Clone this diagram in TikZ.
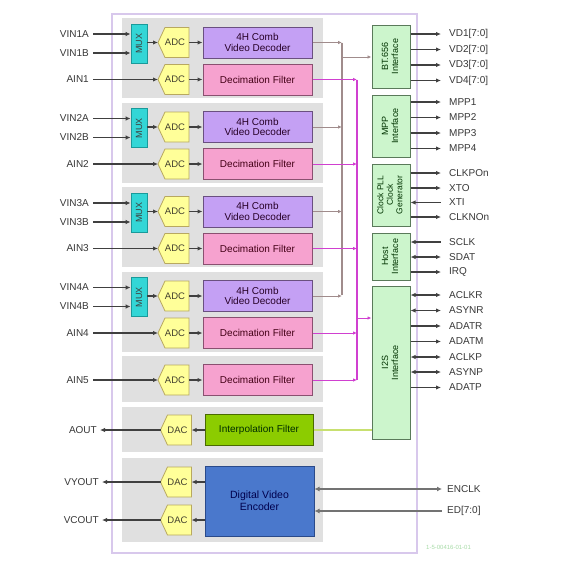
\documentclass[tikz,border=0pt]{standalone}
\usepackage{fontspec}
\usepackage{graphicx}
\setmainfont{Liberation Sans}
\usetikzlibrary{arrows.meta,calc}
\definecolor{panelgray}{HTML}{E0E0E0}
\definecolor{muxfill}{HTML}{33D6D6}
\definecolor{muxline}{HTML}{1A9A9A}
\definecolor{adcfill}{HTML}{FFFF99}
\definecolor{adcline}{HTML}{B8A860}
\definecolor{decfill}{HTML}{C4A0F4}
\definecolor{decline}{HTML}{6A5080}
\definecolor{decimfill}{HTML}{F6A2CF}
\definecolor{decimline}{HTML}{8A5070}
\definecolor{interpfill}{HTML}{8CCC00}
\definecolor{interpline}{HTML}{4A6A00}
\definecolor{encfill}{HTML}{4A78CC}
\definecolor{encline}{HTML}{2A4A8A}
\definecolor{iffill}{HTML}{CCF5CC}
\definecolor{ifline}{HTML}{5A7A5A}
\definecolor{decbus}{HTML}{A08C8C}
\definecolor{magbus}{HTML}{D040D0}
\definecolor{limeline}{HTML}{C8E070}
\definecolor{chipline}{HTML}{D8C8EC}
\definecolor{sigcol}{HTML}{404040}
\definecolor{labcol}{HTML}{383838}
\definecolor{wmark}{HTML}{A8DCA8}
\newcommand{\pentashape}[3]{%
  \draw[#3] (#1-8.5,#2-15) -- (#1+15.5,#2-15) -- (#1+15.5,#2+15) -- (#1-8.5,#2+15) -- (#1-15.5,#2) -- cycle;}
\tikzset{
  muxbox/.style={draw=muxline, fill=muxfill, line width=0.8pt, minimum width=16, minimum height=39, inner sep=0pt, text=black!75, font=\fontsize{9}{10}\selectfont},
  adcst/.style={draw=adcline, fill=adcfill, line width=0.8pt},
  adctext/.style={minimum width=31, minimum height=30, inner sep=0pt, text=black!70!olive, font=\fontsize{9.5}{10}\selectfont},
  decbox/.style={draw=decline, fill=decfill, line width=1pt, minimum width=109, minimum height=31, inner sep=0pt, align=center, text=black!70!violet, font=\fontsize{10}{10.5}\selectfont},
  decimbox/.style={draw=decimline, fill=decimfill, line width=1pt, minimum width=109, minimum height=31, inner sep=0pt, text=black!65!purple, font=\fontsize{10}{11}\selectfont},
  interpbox/.style={draw=interpline, fill=interpfill, line width=1pt, minimum width=108, minimum height=31, inner sep=0pt, text=black!70!green!60!black, font=\fontsize{10}{11}\selectfont},
  encbox/.style={draw=encline, fill=encfill, line width=1pt, minimum width=109, minimum height=70, inner sep=0pt, align=center, text=blue!30!black, font=\fontsize{10.5}{12}\selectfont},
  ifbox/.style={draw=ifline, fill=iffill, line width=1pt, minimum width=38, inner sep=0pt, text=black!60!green!50!black, font=\fontsize{9}{10}\selectfont},
  lab/.style={inner sep=0pt, text=labcol, font=\fontsize{10}{11}\selectfont},
  sig/.style={draw=sigcol, line width=1.2pt},
  outarr/.style={sig, -{Latex[length=5pt,width=4.5pt]}},
  inarr/.style={sig, {Latex[length=5pt,width=4.5pt]}-},
  biarr/.style={sig, {Latex[length=5pt,width=4.5pt]}-{Latex[length=5pt,width=4.5pt]}},
  busline/.style={sig, line width=2pt, draw=black!55},
  decarr/.style={draw=decbus, line width=1pt, -{Latex[length=4pt,width=3.5pt]}},
  magarr/.style={draw=magbus, line width=1pt, -{Latex[length=4pt,width=3.5pt]}},
}
\begin{document}
\begin{tikzpicture}[x=1pt,y=-1pt]
\useasboundingbox (0,0) rectangle (568,568);
\fill[white] (0,0) rectangle (568,568);
\draw[chipline, line width=1.2pt] (112,14) rectangle (417,553);

% grey panels
\foreach \g in {0,1,2,3}{
  \pgfmathsetmacro\t{18+84.5*\g}
  \fill[panelgray] (122,\t) rectangle (323,\t+80);
}
\fill[panelgray] (122,356) rectangle (323,402);
\fill[panelgray] (122,407) rectangle (323,452);
\fill[panelgray] (122,458) rectangle (323,542);

% buses
\coordinate (dbus) at (342,0);
\coordinate (mbus) at (357,0);
\draw[decbus, line width=1.2pt] (342,42.5) -- (342,295);
\draw[magbus, line width=1.2pt] (357,79.5) -- (357,380);

% four video/audio channel groups
\foreach \g/\n in {0/1,1/2,2/3,3/4}{
  \pgfmathsetmacro\t{18+84.5*\g}
  \node[muxbox] (mux\n) at (139,\t+25.5) {\rotatebox{90}{MUX}};
  \pentashape{173.5}{\t+24.5}{adcst}
  \node[adctext] (adcv\n) at (175,\t+24.5) {ADC};
  \pentashape{173.5}{\t+61.5}{adcst}
  \node[adctext] (adca\n) at (175,\t+61.5) {ADC};
  \node[decbox] (dec\n) at (257.5,\t+24.5) {4H Comb\\Video Decoder};
  \node[decimbox] (decim\n) at (257.5,\t+61.5) {Decimation Filter};
  \node[lab, anchor=east] (vina\n) at (89,\t+16) {VIN\n A};
  \node[lab, anchor=east] (vinb\n) at (89,\t+35) {VIN\n B};
  \node[lab, anchor=east] (ain\n) at (89,\t+61.5) {AIN\n};
  \draw[outarr] ($(vina\n.east)+(4,0)$) -- (vina\n -| mux\n.west);
  \draw[outarr] ($(vinb\n.east)+(4,0)$) -- (vinb\n -| mux\n.west);
  \draw[outarr] ($(ain\n.east)+(4,0)$) -- (158,\t+61.5);
  \draw[outarr] (mux\n.east |- adcv\n) -- (158,\t+24.5);
  \draw[outarr] (189,\t+24.5) -- (dec\n.west);
  \draw[outarr] (189,\t+61.5) -- (decim\n.west);
  \draw[decarr] (dec\n.east) -- (dec\n.east -| dbus);
  \draw[magarr] (decim\n.east) -- (decim\n.east -| mbus);
}

% fifth audio channel
\pentashape{173.5}{380}{adcst}
\node[adctext] (adca5) at (175,380) {ADC};
\node[decimbox] (decim5) at (257.5,380) {Decimation Filter};
\node[lab, anchor=east] (ain5) at (89,380) {AIN5};
\draw[outarr] ($(ain5.east)+(4,0)$) -- (158,380);
\draw[outarr] (189,380) -- (decim5.west);
\draw[magarr] (decim5.east) -- (decim5.east -| mbus);

% audio DAC
\pentashape{176}{430}{adcst}
\node[adctext] (dac1) at (177.5,430) {DAC};
\node[interpbox] (interp) at (259,430) {Interpolation Filter};
\node[lab, anchor=east] (aout) at (97,430) {AOUT};
\draw[outarr] (interp.west) -- (191.5,430);
\draw[outarr] (160.5,430) -- ($(aout.east)+(3,0)$);

% video encoder
\pentashape{176}{482}{adcst}
\node[adctext] (dac2) at (177.5,482) {DAC};
\pentashape{176}{520}{adcst}
\node[adctext] (dac3) at (177.5,520) {DAC};
\node[encbox] (enc) at (259.5,501) {Digital Video\\Encoder};
\node[lab, anchor=east] (vyout) at (99,482) {VYOUT};
\node[lab, anchor=east] (vcout) at (99,520) {VCOUT};
\draw[outarr] (enc.west |- dac2) -- (191.5,482);
\draw[outarr] (enc.west |- dac3) -- (191.5,520);
\draw[outarr] (160.5,482) -- ($(vyout.east)+(3,0)$);
\draw[outarr] (160.5,520) -- ($(vcout.east)+(3,0)$);
\node[lab, anchor=west] (enclk) at (447,489) {ENCLK};
\node[lab, anchor=west] (ed) at (447,511) {ED[7:0]};
\draw[busline, {Latex[length=5pt,width=5pt]}-{Latex[length=5pt,width=5pt]}] (enc.east |- enclk) -- ($(enclk.west)+(-5,0)$);
\draw[busline, {Latex[length=5pt,width=5pt]}-] (enc.east |- ed) -- ($(ed.west)+(-5,0)$);

% interface blocks
\node[ifbox, minimum height=63] (bt) at (391,56.5) {\rotatebox{90}{\begin{tabular}{@{}c@{}}BT.656\\Interface\end{tabular}}};
\node[ifbox, minimum height=62] (mpp) at (391,126) {\rotatebox{90}{\begin{tabular}{@{}c@{}}MPP\\Interface\end{tabular}}};
\node[ifbox, minimum height=62, font=\fontsize{8.5}{9.5}\selectfont] (clk) at (391,195) {\rotatebox{90}{\begin{tabular}{@{}c@{}}Clock PLL\\Clock\\Generator\end{tabular}}};
\node[ifbox, minimum height=47] (host) at (391,256.5) {\rotatebox{90}{\begin{tabular}{@{}c@{}}Host\\Interface\end{tabular}}};
\node[ifbox, minimum height=153] (i2s) at (391,362.5) {\rotatebox{90}{\begin{tabular}{@{}c@{}}I2S\\Interface\end{tabular}}};

\draw[decarr] (342,57) -- (bt.west |- 0,57);
\draw[magarr] (357,318) -- (i2s.west |- 0,318);
\draw[limeline, line width=1.2pt] (interp.east) -- (interp.east -| i2s.west);

% pins on the right
\foreach \b/\y/\l/\d [count=\i] in {
  bt/34/VD1[7:0]/outarr, bt/49.5/VD2[7:0]/outarr, bt/65/VD3[7:0]/outarr, bt/80.5/VD4[7:0]/outarr,
  mpp/102/MPP1/outarr, mpp/117.5/MPP2/outarr, mpp/133/MPP3/outarr, mpp/148.5/MPP4/outarr,
  clk/173/CLKPOn/outarr, clk/188/XTO/outarr, clk/202.5/XTI/inarr, clk/217/CLKNOn/outarr,
  host/242/SCLK/inarr, host/257/SDAT/biarr, host/272/IRQ/outarr,
  i2s/295/ACLKR/biarr, i2s/310.5/ASYNR/biarr, i2s/326/ADATR/outarr, i2s/341.5/ADATM/outarr,
  i2s/357/ACLKP/biarr, i2s/372/ASYNP/biarr, i2s/387.5/ADATP/outarr}{
  \node[lab, anchor=west] (pin\i) at (449,\y) {\l};
  \draw[\d] (\b.east |- pin\i) -- (441,\y);
}

\node[inner sep=0pt, anchor=west, text=wmark, font=\fontsize{6}{7}\selectfont] (wm) at (426,547) {1-5-00416-01-01};
\end{tikzpicture}
\end{document}
